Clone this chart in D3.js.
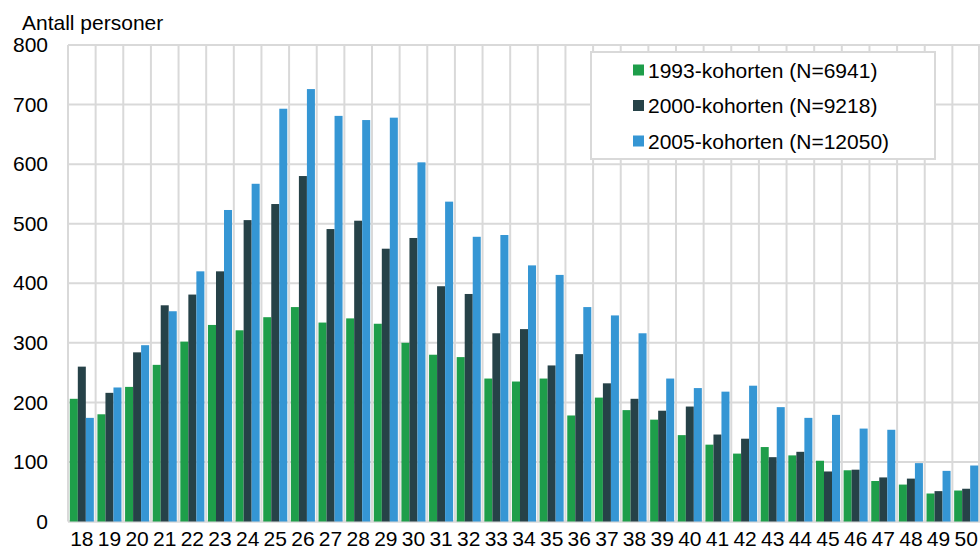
<!DOCTYPE html>
<html>
<head>
<meta charset="utf-8">
<script src="https://cdn.jsdelivr.net/npm/d3@7"></script>
<style>
  body { margin: 0; background: #fff; }
  svg { display: block; font-family: "Liberation Sans", Arial, sans-serif; }
</style>
</head>
<body>
<div id="chart"></div>
<script>
// ages on the x axis
const ages = d3.range(18, 51).map(String);

// number of persons per age, one array per cohort
const c1993 = [206, 180, 226, 263, 302, 330, 321, 343, 360, 334, 341, 332, 300, 280, 276, 240, 235, 240, 178, 208, 187,
               171, 145, 129, 114, 125, 111, 102, 86, 68, 62, 47, 52];
const c2000 = [260, 216, 284, 363, 381, 420, 506, 533, 580, 491, 505, 458, 476, 395, 382, 316, 323, 262, 281, 232, 206,
               186, 193, 146, 139, 108, 117, 84, 87, 74, 72, 51, 55];
const c2005 = [174, 225, 296, 353, 420, 523, 567, 693, 726, 681, 674, 678, 603, 537, 478, 481, 430, 414, 360, 346, 316,
               240, 224, 218, 228, 192, 174, 179, 156, 154, 98, 85, 94];

const seriesNames = ['1993-kohorten (N=6941)', '2000-kohorten (N=9218)', '2005-kohorten (N=12050)'];
const seriesColors = ['#1e9e4a', '#264248', '#3596d4'];
const yTicks = [0, 100, 200, 300, 400, 500, 600, 700, 800];

const width = 980;
const height = 550;
const margin = { top: 45, right: 0, bottom: 28, left: 68 };
const gridColor = '#d9d9d9';
const fontSize = '21px';

const svg = d3.select('#chart')
    .append('svg')
    .attr('width', width)
    .attr('height', height);

const series = [c1993, c2000, c2005];

// scales
const x0 = d3.scaleBand()
    .domain(ages)
    .range([margin.left, width - margin.right])
    .paddingInner(0)
    .paddingOuter(0);

const x1 = d3.scaleBand()
    .domain(d3.range(series.length))
    .range([x0.bandwidth() * 0.065, x0.bandwidth() * 0.935])
    .padding(0);

const y = d3.scaleLinear()
    .domain([0, 800])
    .range([height - margin.bottom - 0.5, margin.top]);

// grid
const grid = svg.append('g');

grid.selectAll('.hgrid')
    .data(yTicks)
    .enter()
    .append('line')
        .attr('x1', margin.left)
        .attr('x2', width)
        .attr('y1', d => y(d))
        .attr('y2', d => y(d))
        .attr('stroke', gridColor)
        .attr('stroke-width', d => d === 0 ? 2.5 : 2);

grid.selectAll('.vgrid')
    .data(ages.concat(['end']))
    .enter()
    .append('line')
        .attr('x1', d => d === 'end' ? width - 1 : x0(d))
        .attr('x2', d => d === 'end' ? width - 1 : x0(d))
        .attr('y1', y(800))
        .attr('y2', y(0))
        .attr('stroke', gridColor)
        .attr('stroke-width', 2);

// bars
const groups = svg.append('g')
    .selectAll('g')
    .data(ages)
    .enter()
    .append('g')
        .attr('transform', d => `translate(${x0(d)},0)`);

groups.selectAll('rect')
    .data((d, i) => series.map((s, k) => ({ k: k, v: s[i] })))
    .enter()
    .append('rect')
        .attr('x', d => x1(d.k))
        .attr('width', x1.bandwidth())
        .attr('y', d => y(d.v))
        .attr('height', d => y(0) - y(d.v))
        .attr('fill', d => seriesColors[d.k]);

// y axis labels
const yAxis = d3.axisLeft(y)
    .tickValues(yTicks)
    .tickSize(0)
    .tickPadding(20);

svg.append('g')
    .attr('transform', `translate(${margin.left},0)`)
    .call(yAxis)
    .call(g => g.select('.domain').remove())
    .selectAll('text')
        .attr('font-size', fontSize)
        .attr('font-family', '"Liberation Sans", Arial, sans-serif')
        .attr('fill', '#000');

// x axis labels
const xAxis = d3.axisBottom(x0)
    .tickSize(0)
    .tickPadding(10);

svg.append('g')
    .attr('transform', `translate(0,${y(0)})`)
    .call(xAxis)
    .call(g => g.select('.domain').remove())
    .selectAll('text')
        .attr('font-size', fontSize)
        .attr('font-family', '"Liberation Sans", Arial, sans-serif')
        .attr('fill', '#000');

// axis title
svg.append('text')
    .attr('x', 22)
    .attr('y', 30)
    .attr('font-size', fontSize)
    .attr('fill', '#000')
    .text('Antall personer');

// legend
const legend = svg.append('g');

legend.append('rect')
    .attr('x', 591)
    .attr('y', 52)
    .attr('width', 344)
    .attr('height', 107)
    .attr('fill', '#fff')
    .attr('stroke', gridColor)
    .attr('stroke-width', 2);

const rows = legend.selectAll('.row')
    .data(seriesNames)
    .enter()
    .append('g')
        .attr('transform', (d, i) => `translate(633,${70 + i * 35.5})`);

rows.append('rect')
    .attr('x', 0)
    .attr('y', -5.5)
    .attr('width', 11)
    .attr('height', 11)
    .attr('fill', (d, i) => seriesColors[i]);

rows.append('text')
    .attr('x', 15)
    .attr('y', 0)
    .attr('dy', '0.36em')
    .attr('font-size', fontSize)
    .attr('fill', '#000')
    .text(d => d);
</script>
</body>
</html>
